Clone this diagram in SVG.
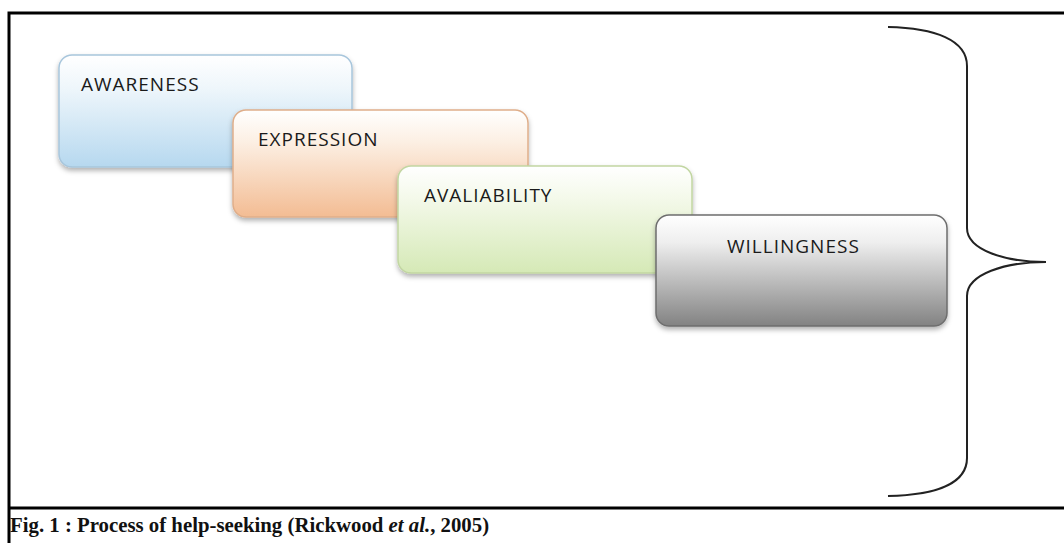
<svg xmlns="http://www.w3.org/2000/svg" width="1064" height="543" viewBox="0 0 1064 543">
<style>
.lbl{font-family:"Open Sans","Liberation Sans",Arial,sans-serif;font-size:19px;letter-spacing:1px;fill:#1a1a1a}
.cap{font-family:"Liberation Serif","Times New Roman",serif;font-size:20.8px;font-weight:bold;fill:#111}
.frame{stroke:#000;stroke-width:3;fill:none}
.brace{stroke:#222;stroke-width:2;fill:none}
</style>
<defs>
<filter id="sh" x="-10%" y="-10%" width="120%" height="130%">
<feDropShadow dx="0" dy="3" stdDeviation="2.5" flood-color="#000" flood-opacity="0.3"/>
</filter>
<linearGradient id="gBlue" x1="0" y1="0" x2="0" y2="1">
<stop offset="0" stop-color="#ffffff"/><stop offset="0.3" stop-color="#eef6fb"/><stop offset="1" stop-color="#b6d8ef"/>
</linearGradient>
<linearGradient id="gOrange" x1="0" y1="0" x2="0" y2="1">
<stop offset="0" stop-color="#ffffff"/><stop offset="0.3" stop-color="#fcefe3"/><stop offset="1" stop-color="#f3bc93"/>
</linearGradient>
<linearGradient id="gGreen" x1="0" y1="0" x2="0" y2="1">
<stop offset="0" stop-color="#ffffff"/><stop offset="0.3" stop-color="#f4f9ea"/><stop offset="1" stop-color="#d5e9b6"/>
</linearGradient>
<linearGradient id="gGray" x1="0" y1="0" x2="0" y2="1">
<stop offset="0" stop-color="#ffffff"/><stop offset="0.25" stop-color="#eeeeee"/><stop offset="1" stop-color="#828282"/>
</linearGradient>
</defs>
<rect width="1064" height="543" fill="#fff"/>
<g id="frame">
<path class="frame" d="M9,543 V13 H1064"/>
<line class="frame" x1="9" y1="508" x2="1064" y2="508"/>
</g>
<g id="awareness">
<rect x="59" y="55" width="293" height="112" rx="13" fill="url(#gBlue)" stroke="#a8c6dc" stroke-width="1.5" filter="url(#sh)"/>
<text class="lbl" x="81" y="91">AWARENESS</text>
</g>
<g id="expression">
<rect x="233" y="110" width="295" height="107" rx="13" fill="url(#gOrange)" stroke="#dfae8a" stroke-width="1.5" filter="url(#sh)"/>
<text class="lbl" x="258" y="146">EXPRESSION</text>
</g>
<g id="availability">
<rect x="398" y="166" width="294" height="107" rx="13" fill="url(#gGreen)" stroke="#c2d6a2" stroke-width="1.5" filter="url(#sh)"/>
<text class="lbl" x="424" y="202">AVALIABILITY</text>
</g>
<g id="willingness">
<rect x="656" y="215" width="291" height="111" rx="13" fill="url(#gGray)" stroke="#6e6e6e" stroke-width="1.5" filter="url(#sh)"/>
<text class="lbl" x="727" y="253">WILLINGNESS</text>
</g>
<g id="connectors">
<path class="brace" d="M888,27 C935,28 967,40 967,66 V228 C967,250 1005,262 1046,262 C1005,262 967,274 967,296 V458 C967,484 935,495 888,496"/>
</g>
<g id="caption">
<text class="cap" x="10" y="532">Fig. 1 : Process of help-seeking (Rickwood <tspan font-style="italic">et al.</tspan>, 2005)</text>
</g>
</svg>
